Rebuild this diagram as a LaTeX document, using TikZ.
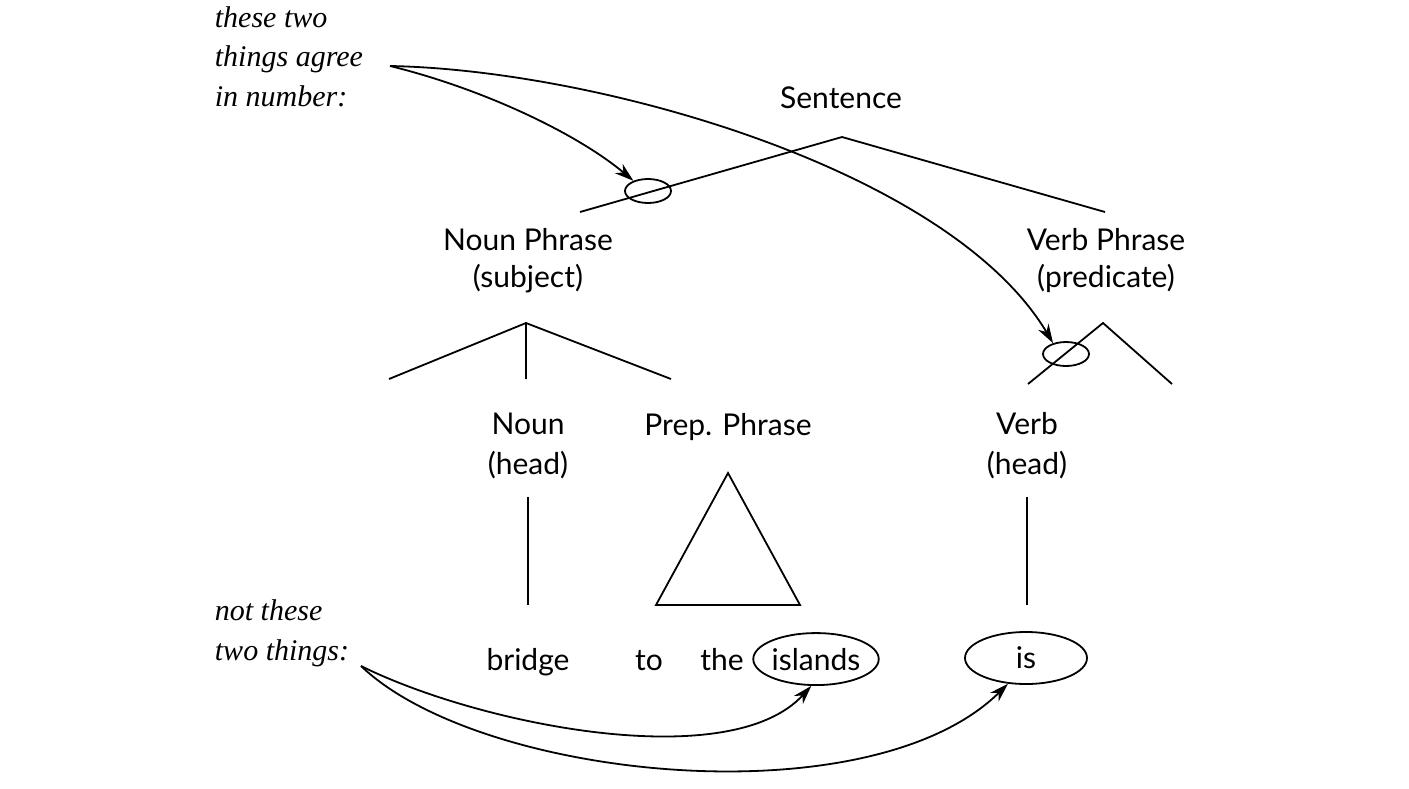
\documentclass[tikz,border=0pt]{standalone}
\usepackage{fontspec}
\setmainfont{Lato}
\newfontfamily\notefont{Liberation Serif}
\usetikzlibrary{arrows.meta,shapes.geometric}

\begin{document}
\begin{tikzpicture}[x=0.5pt,y=-0.5pt,line width=0.9pt,
 >={Stealth[length=9.5pt,width=6pt,inset=3pt]},
 word/.style={inner sep=0pt,anchor=base,align=center,font=\fontsize{15}{18.5}\selectfont},
 head/.style={word,font=\fontsize{15}{20}\selectfont},
 note/.style={inner sep=0pt,anchor=base west,align=left,font=\notefont\itshape\fontsize{15}{19.75}\selectfont},
 agree/.style={draw,ellipse,inner sep=0pt,minimum width=23pt,minimum height=12pt},
 circled/.style={word,draw,ellipse,inner sep=0pt,minimum width=61pt,minimum height=26pt}]
\useasboundingbox (0,0) rectangle (1409,788);
% labels
\node[note] (agr) at (214,106) {these two\\things agree\\in number:};
\node[note] (notagr) at (214,660) {not these\\two things:};
\node[word] (s) at (841,108) {Sentence};
\node[word] (np) at (528,287) {Noun Phrase\\(subject)};
\node[word] (vp) at (1106,287) {Verb Phrase\\(predicate)};
\node[head] (n) at (528,474) {Noun\\(head)};
\node[word] (pp) at (728,435) {Prep. Phrase};
\node[head] (v) at (1027,474) {Verb\\(head)};
\node[word] (w1) at (528,670) {bridge};
\node[word] (w2) at (649,670) {to};
\node[word] (w3) at (722,670) {the};
\node[circled] (w4) at (816,670) {islands};
\node[circled,anchor=center] (w5) at (1026,658) {is};
% tree
\coordinate (stop) at (842,137);
\coordinate (sl) at (580,212);
\coordinate (sr) at (1105,212);
\coordinate (nptop) at (526,323);
\coordinate (npl) at (389,379);
\coordinate (npm) at (526,379);
\coordinate (npr) at (671,379);
\coordinate (vptop) at (1103,323);
\coordinate (vpl) at (1028,384);
\coordinate (vpr) at (1172,384);
\coordinate (ntop) at (528,497);
\coordinate (nbot) at (528,605);
\coordinate (vtop) at (1027,497);
\coordinate (vbot) at (1027,605);
\coordinate (tria) at (728,473);
\coordinate (tril) at (656,605);
\coordinate (trir) at (800,605);
\draw (sl) -- (stop) -- (sr);
\draw (npl) -- (nptop) -- (npr) (nptop) -- (npm);
\draw (vpl) -- (vptop) -- (vpr);
\draw (ntop) -- (nbot);
\draw (vtop) -- (vbot);
\draw (tria) -- (tril) -- (trir) -- cycle;
\node[agree] (e1) at (648,191) {};
\node[agree] (e2) at (1066,354) {};
% arrows
\coordinate (from1) at (390,66);
\coordinate (from2) at (361,666);
\draw[->] (from1) .. controls (480,88) and (575,132) .. (e1.145);
\draw[->] (from1) .. controls (600,70) and (950,170) .. (e2.140);
\draw[->] (from2) .. controls (480,725) and (730,775) .. (w4.-100);
\draw[->] (from2) .. controls (480,780) and (870,820) .. (w5.-125);
\end{tikzpicture}
\end{document}
